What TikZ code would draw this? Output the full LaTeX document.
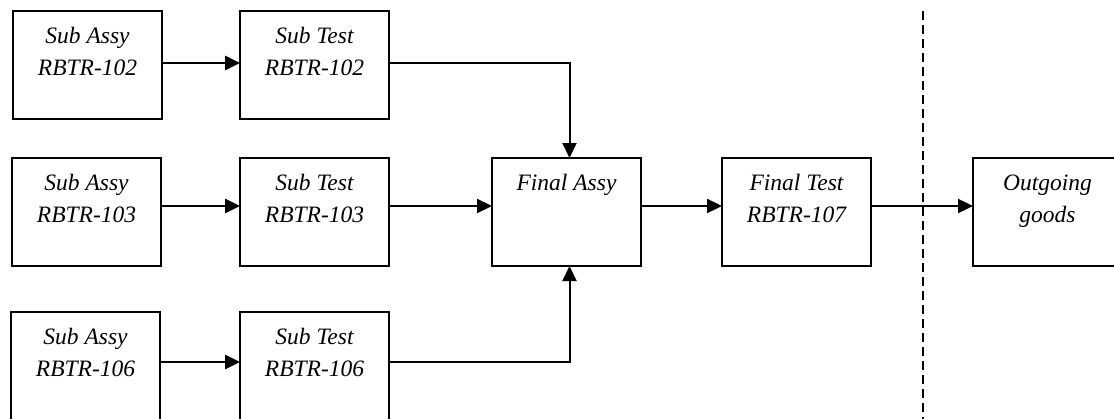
\documentclass[tikz,border=0pt]{standalone}
\usepackage{fontspec}
\setmainfont{Liberation Serif}
\usetikzlibrary{arrows.meta}
\newcommand{\boxtext}[1]{\begin{minipage}[c][108pt][t]{149pt}\centering\fontsize{23.5}{32}\selectfont\itshape\rule{0pt}{32pt}#1\end{minipage}}
\begin{document}
\begin{tikzpicture}[x=1pt,y=-1pt,
  box/.style={draw, line width=2.1pt, inner sep=0pt, outer sep=0pt, anchor=north west},
  conn/.style={line width=2.3pt, -{Triangle[length=15pt,width=14pt]}},
  thick conn/.style={line width=2.9pt, -{Triangle[length=15pt,width=14pt]}},
  plain conn/.style={line width=2.0pt, -{Triangle[length=15pt,width=14pt]}},
  divider/.style={line width=1.6pt, dash pattern=on 9pt off 5pt}]
\useasboundingbox (0,0) rectangle (1114,418);
\fill[white] (0,0) rectangle (1114,418);
\clip (0,0) rectangle (1114,418);
\node[box] (a102) at (13,11) {\boxtext{Sub Assy\\RBTR-102}};
\node[box] (t102) at (240,11) {\boxtext{Sub Test\\RBTR-102}};
\node[box] (a103) at (12,158) {\boxtext{Sub Assy\\RBTR-103}};
\node[box] (t103) at (240,158) {\boxtext{Sub Test\\RBTR-103}};
\node[box] (a106) at (11,312) {\boxtext{Sub Assy\\RBTR-106}};
\node[box] (t106) at (240,312) {\boxtext{Sub Test\\RBTR-106}};
\node[box] (fa) at (492,158) {\boxtext{Final Assy}};
\node[box] (ft) at (722,158) {\boxtext{Final Test\\RBTR-107}};
\node[box] (og) at (973,158) {\boxtext{Outgoing\\goods}};
\coordinate (dtop) at (923,11);
\coordinate (dbot) at (923,430);
\draw[divider] (dtop) -- (dbot);
\draw[thick conn] ([yshift=2pt]a102.east) -- ([yshift=2pt]t102.west);
\draw[thick conn] ([yshift=6pt]a103.east) -- ([yshift=6pt]t103.west);
\draw[thick conn] ([yshift=4pt]a106.east) -- ([yshift=4pt]t106.west);
\draw[plain conn] ([yshift=2pt]t102.east) -| ([xshift=3pt]fa.north);
\draw[conn] ([yshift=6pt]t103.east) -- ([yshift=6pt]fa.west);
\draw[plain conn] ([yshift=4pt]t106.east) -| ([xshift=3pt]fa.south);
\draw[conn] ([yshift=6pt]fa.east) -- ([yshift=6pt]ft.west);
\draw[conn] ([yshift=6pt]ft.east) -- ([yshift=6pt]og.west);
\end{tikzpicture}
\end{document}
